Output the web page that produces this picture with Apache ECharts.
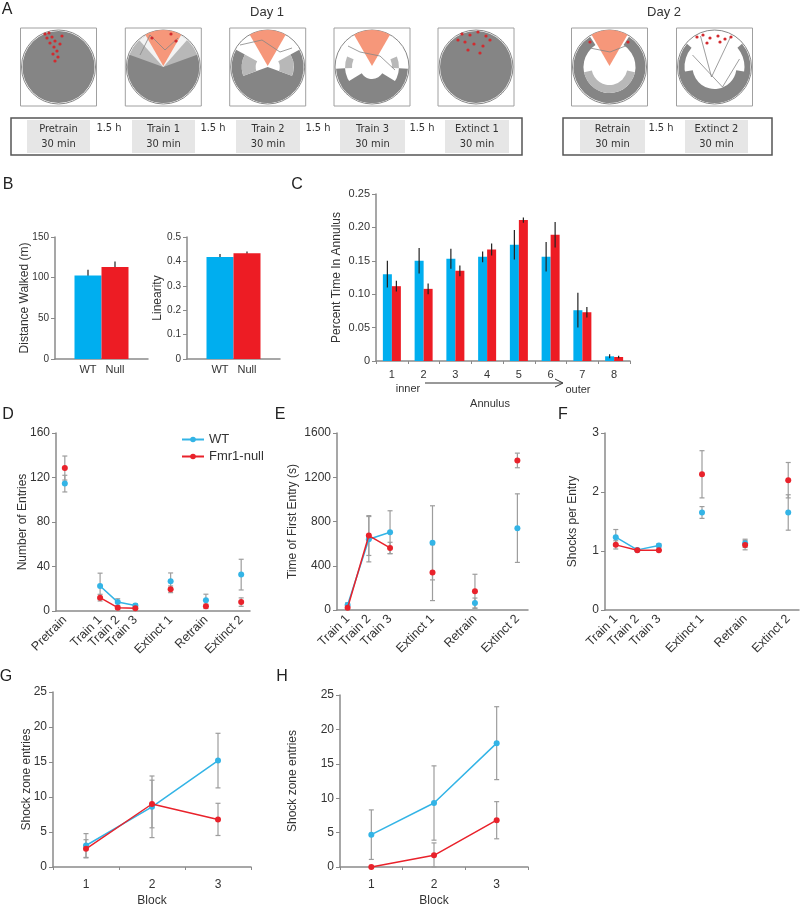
<!DOCTYPE html>
<html><head><meta charset="utf-8">
<script src="https://cdn.jsdelivr.net/npm/echarts/dist/echarts.min.js"></script>
<style>html,body{margin:0;padding:0;background:#fff}#c{width:800px;height:908px}</style>
</head><body><div id="c"></div>
<script>
// ---------------- DATA ----------------
const groups = ['WT', 'Null'];
const distWalked = [102.7, 113];
const distWalkedErr = [7, 7];
const linearity = [0.418, 0.433];
const linearityErr = [0.012, 0.008];

const annulusCats = ['1','2','3','4','5','6','7','8'];
const wtAnnulus = [0.130, 0.150, 0.153, 0.156, 0.174, 0.156, 0.076, 0.007];
const wtAnnulusErr = [0.020, 0.019, 0.015, 0.008, 0.022, 0.022, 0.026, 0.003];
const nullAnnulus = [0.112, 0.108, 0.135, 0.167, 0.211, 0.189, 0.073, 0.006];
const nullAnnulusErr = [0.008, 0.008, 0.008, 0.009, 0.004, 0.019, 0.008, 0.002];

const sessionsD = ['Pretrain','','Train 1','Train 2','Train 3','','Extinct 1','','Retrain','','Extinct 2'];
const wtEntries = [114.5, null, 22.5, 8, 5, null, 26.7, null, 9.6, null, 32.7];
const wtEntriesErr = [7.5, null, 11.5, 3, 1.5, null, 7.5, null, 5.5, null, 13.8];
const nullEntries = [128.5, null, 12, 3, 2.4, null, 19.5, null, 4.2, null, 8];
const nullEntriesErr = [10.8, null, 3, 1.2, 1, null, 3, null, 2, null, 3.8];

const sessionsEF = ['Train 1','Train 2','Train 3','','Extinct 1','','Retrain','','Extinct 2'];
const wtFirst = [45, 640, 703, null, 607, null, 63, null, 740];
const wtFirstErr = [20, 205, 194, null, 335, null, 45, null, 310];
const nullFirst = [21, 673, 561, null, 338, null, 169, null, 1352];
const nullFirstErr = [15, 180, 51, null, 253, null, 154, null, 66];

const wtShocks = [1.234, 1.019, 1.092, null, 1.653, null, 1.13, null, 1.653];
const wtShocksErr = [0.13, 0.015, 0.03, null, 0.1, null, 0.07, null, 0.3];
const nullShocks = [1.104, 1.013, 1.013, null, 2.30, null, 1.10, null, 2.20];
const nullShocksErr = [0.07, 0.01, 0.01, null, 0.4, null, 0.08, null, 0.3];

const blocks = ['1','2','3'];
const wtBlockG = [3.07, 8.6, 15.2];
const wtBlockGErr = [1.7, 4.4, 3.9];
const nullBlockG = [2.6, 9.0, 6.8];
const nullBlockGErr = [1.3, 3.4, 2.3];
const wtBlockH = [4.7, 9.3, 18.0];
const wtBlockHErr = [3.6, 5.4, 5.3];
const nullBlockH = [0, 1.7, 6.8];
const nullBlockHErr = [0, 1.8, 2.7];

const dayLabels = ['Day 1', 'Day 2'];
const day1Sessions = ['Pretrain','Train 1','Train 2','Train 3','Extinct 1'];
const day2Sessions = ['Retrain','Extinct 2'];
const gapLabel = '1.5 h';
const durLabel = '30 min';

// ---------------- STYLE ----------------
const FONT = '"Liberation Sans", Arial, sans-serif';
const NARROW = '"Liberation Sans Narrow", "DejaVu Sans Condensed", "Liberation Sans", sans-serif';
const BLUE = '#00aeef', RED = '#ed1c24', LBLUE = '#33b4e6', LRED = '#e9222b';
const AX = '#8a8a8a', TXT = '#333';

const grids = [
  {left:55, top:237, width:93, height:122},   // B left
  {left:187, top:237, width:93, height:122},  // B right
  {left:376, top:194, width:254, height:167}, // C
  {left:56, top:433, width:194, height:178},  // D
  {left:337, top:433, width:191, height:177}, // E
  {left:605, top:433, width:194, height:177}, // F
  {left:53, top:692, width:198, height:176},  // G
  {left:340, top:695, width:188, height:173}  // H
];

const plain = v => String(v);
function yAx(gi, min, max, interval, name, nameGap, fs, nfs, fmt) {
  return {type:'value', gridIndex:gi, min, max, interval, name, nameLocation:'middle', nameGap, nameMoveOverlap:false,
    nameTextStyle:{fontSize:nfs, color:TXT, fontFamily:FONT},
    axisLine:{show:true, lineStyle:{color:AX, width:1.5}},
    axisTick:{show:true, length:4, lineStyle:{color:AX}},
    splitLine:{show:false},
    axisLabel:{fontSize:fs, color:TXT, margin:6, fontFamily:FONT, formatter:fmt || plain}};
}
function xCat(gi, data, opts) {
  const o = {type:'category', gridIndex:gi, data, boundaryGap:true,
    axisLine:{show:true, lineStyle:{color:AX, width:1.5}},
    axisTick:{show:false}, splitLine:{show:false},
    axisLabel:{fontSize:13, color:TXT, fontFamily:FONT, interval:0, margin:6}};
  return Object.assign(o, opts || {});
}
const rotLabel = {fontSize:12.5, color:TXT, rotate:45, interval:0, margin:7, fontFamily:FONT};

const xAxis = [
  xCat(0, ['B1'], {axisLabel:{show:false}}),
  xCat(1, ['B2'], {axisLabel:{show:false}}),
  xCat(2, annulusCats, {axisTick:{show:true, length:3, lineStyle:{color:AX}}, axisLabel:{fontSize:11, color:TXT, margin:8, fontFamily:FONT}}),
  xCat(3, sessionsD, {axisLabel:rotLabel}),
  xCat(4, sessionsEF, {axisLabel:rotLabel}),
  xCat(5, sessionsEF, {axisLabel:rotLabel}),
  xCat(6, blocks, {name:'Block', nameLocation:'middle', nameGap:28, nameMoveOverlap:false, nameTextStyle:{fontSize:12, color:TXT, fontFamily:FONT},
     axisTick:{show:true, length:3, lineStyle:{color:AX}}, axisLabel:{fontSize:12, color:TXT, margin:12, fontFamily:FONT}}),
  xCat(7, blocks, {name:'Block', nameLocation:'middle', nameGap:28, nameMoveOverlap:false, nameTextStyle:{fontSize:12, color:TXT, fontFamily:FONT},
     axisTick:{show:true, length:3, lineStyle:{color:AX}}, axisLabel:{fontSize:12, color:TXT, margin:12, fontFamily:FONT}})
];
const yAxis = [
  yAx(0, 0, 150, 50, 'Distance Walked (m)', 24, 10, 12),
  yAx(1, 0, 0.5, 0.1, 'Linearity', 23, 10, 12),
  yAx(2, 0, 0.25, 0.05, 'Percent Time In Annulus', 33, 11, 12, v => v === 0 ? '0' : v.toFixed(2)),
  yAx(3, 0, 160, 40, 'Number of Entries', 27, 12, 12),
  yAx(4, 0, 1600, 400, 'Time of First Entry (s)', 38, 12, 12),
  yAx(5, 0, 3, 1, 'Shocks per Entry', 26, 12, 12),
  yAx(6, 0, 25, 5, 'Shock zone entries', 20, 12, 12),
  yAx(7, 0, 25, 5, 'Shock zone entries', 41, 12, 12)
];

function errS(gi, means, errs, color, cap, offset, width) {
  const data = [];
  means.forEach((m, i) => { if (m !== null && errs[i] !== null) data.push([i, m, errs[i]]); });
  return {type:'custom', xAxisIndex:gi, yAxisIndex:gi, data, silent:true, z:2, animation:false,
    renderItem: function(params, api) {
      const x = api.value(0), m = api.value(1), e = api.value(2);
      const hi = api.coord([x, m + e]), lo = api.coord([x, Math.max(0, m - e)]);
      const px = hi[0] + offset;
      const ch = [{type:'line', shape:{x1:px, y1:hi[1], x2:px, y2:lo[1]}, style:{stroke:color, lineWidth:width}}];
      if (cap) {
        ch.push({type:'line', shape:{x1:px-cap, y1:hi[1], x2:px+cap, y2:hi[1]}, style:{stroke:color, lineWidth:width}});
        ch.push({type:'line', shape:{x1:px-cap, y1:lo[1], x2:px+cap, y2:lo[1]}, style:{stroke:color, lineWidth:width}});
      }
      return {type:'group', children:ch};
    }};
}
function lineS(name, gi, data, color, z) {
  return {type:'line', name, xAxisIndex:gi, yAxisIndex:gi, data, symbol:'circle', symbolSize:6,
    showSymbol:true, connectNulls:false, itemStyle:{color}, lineStyle:{color, width:1.5}, z:z||3, animation:false};
}
function barS(name, gi, data, color, width, label) {
  const s = {type:'bar', name, xAxisIndex:gi, yAxisIndex:gi, data, barWidth:width, barGap:'0%',
    itemStyle:{color}, animation:false};
  if (label) s.label = {show:true, position:'bottom', distance:5, formatter:label, fontSize:11, color:TXT, fontFamily:FONT};
  return s;
}

const ERRC = '#9d9d9d';
const series = [
  // D (first so legend picks line icon)
  lineS('WT', 3, wtEntries, LBLUE, 3),
  lineS('Fmr1-null', 3, nullEntries, LRED, 4),
  errS(3, wtEntries, wtEntriesErr, ERRC, 2.5, 0, 1.2),
  errS(3, nullEntries, nullEntriesErr, ERRC, 2.5, 0, 1.2),
  // B
  barS('WT', 0, [distWalked[0]], BLUE, 27, groups[0]),
  barS('Null', 0, [distWalked[1]], RED, 27, groups[1]),
  errS(0, [distWalked[0]], [distWalkedErr[0]], '#222', 0, -13.5, 1.2),
  errS(0, [distWalked[1]], [distWalkedErr[1]], '#222', 0, 13.5, 1.2),
  barS('WT', 1, [linearity[0]], BLUE, 27, groups[0]),
  barS('Null', 1, [linearity[1]], RED, 27, groups[1]),
  errS(1, [linearity[0]], [linearityErr[0]], '#222', 0, -13.5, 1.2),
  errS(1, [linearity[1]], [linearityErr[1]], '#222', 0, 13.5, 1.2),
  // C
  barS('WT', 2, wtAnnulus, BLUE, 9),
  barS('Null', 2, nullAnnulus, RED, 9),
  Object.assign(errS(2, wtAnnulus, wtAnnulusErr, '#222', 0, -4.5, 1.2), {z:5}),
  Object.assign(errS(2, nullAnnulus, nullAnnulusErr, '#222', 0, 4.5, 1.2), {z:5}),
  // E
  errS(4, wtFirst, wtFirstErr, ERRC, 2.5, 0, 1.2),
  errS(4, nullFirst, nullFirstErr, ERRC, 2.5, 0, 1.2),
  lineS('WT', 4, wtFirst, LBLUE, 3),
  lineS('Fmr1-null', 4, nullFirst, LRED, 4),
  // F
  errS(5, wtShocks, wtShocksErr, ERRC, 2.5, 0, 1.2),
  errS(5, nullShocks, nullShocksErr, ERRC, 2.5, 0, 1.2),
  lineS('WT', 5, wtShocks, LBLUE, 3),
  lineS('Fmr1-null', 5, nullShocks, LRED, 4),
  // G
  errS(6, wtBlockG, wtBlockGErr, ERRC, 2.5, 0, 1.2),
  errS(6, nullBlockG, nullBlockGErr, ERRC, 2.5, 0, 1.2),
  lineS('WT', 6, wtBlockG, LBLUE, 3),
  lineS('Fmr1-null', 6, nullBlockG, LRED, 4),
  // H
  errS(7, wtBlockH, wtBlockHErr, ERRC, 2.5, 0, 1.2),
  errS(7, nullBlockH, nullBlockHErr, ERRC, 2.5, 0, 1.2),
  lineS('WT', 7, wtBlockH, LBLUE, 3),
  lineS('Fmr1-null', 7, nullBlockH, LRED, 4)
];

// ---------------- PANEL A (schematic image) + annotations ----------------
const G = [];
function T(x, y, text, fs, opt, z) {
  G.push({type:'text', x, y, z: z || 10, silent:true, style:Object.assign({text, fontSize:fs, fontFamily:FONT, fill:TXT, align:'center', verticalAlign:'middle'}, opt||{})});
}
// panel letters
[['A',7,10],['B',8,185],['C',297,185],['D',8,415],['E',280,415],['F',563,415],['G',6,677],['H',282,677]]
  .forEach(l => T(l[1], l[2], l[0], 16, {fill:'#222'}));
T(267, 12, dayLabels[0], 13);
T(664, 12, dayLabels[1], 13);

const GRAY = '#858585', LGRAY = '#b8b8b8', ORANGE = '#f6977a', DOT = '#d22a2e';
const arenaX = [58.5, 163.3, 267.7, 372, 476, 609.5, 714.5];
const AY = 67, R = 37;
function sector(cx, cy, r0, r, a0, a1, fill, z) {
  G.push({type:'sector', silent:true, z:z||1, shape:{cx, cy, r0, r, startAngle:a0, endAngle:a1, clockwise:true}, style:{fill}});
}
function dots(list) { list.forEach(p => G.push({type:'circle', silent:true, z:5, shape:{cx:p[0], cy:p[1], r:1.6}, style:{fill:DOT}})); }
function path(pts, z) { G.push({type:'polyline', silent:true, z:z||2, shape:{points:pts}, style:{stroke:GRAY, lineWidth:0.8, fill:null}}); }
const PI = Math.PI;
arenaX.forEach((cx, i) => {
  G.push({type:'rect', silent:true, z:0, shape:{x:cx-38, y:AY-39, width:76, height:78}, style:{fill:'#fff', stroke:'#a0a0a0', lineWidth:1}});
  if (i === 0 || i === 4) {
    sector(cx, AY, 0, R-1, 0, 2*PI, GRAY);
  } else if (i === 1) {
    sector(cx, AY, 0, R-1, -PI/2, 3*PI/2, LGRAY);
    sector(cx, AY, 0, R-1, -0.35, PI+0.35, GRAY);
    sector(cx, AY, 0, R-1, -2.3, -0.85, '#f3f3f3');
  } else if (i === 2) {
    sector(cx, AY, 26, R-1, -0.5, PI+0.5, GRAY);
    sector(cx, AY, 0, R-1, 0.35, PI-0.35, GRAY);
    sector(cx, AY, 12, 26, -0.5, 0.35, LGRAY); sector(cx, AY, 12, 26, PI-0.35, PI+0.5, LGRAY);
  } else if (i === 3) {
    sector(cx, AY, 27, R-1, 0.05, PI-0.05, GRAY);
    sector(cx, AY, 12, R-1, 0.55, PI-0.55, GRAY);
    sector(cx, AY, 20, 27, -0.4, 0.05, LGRAY); sector(cx, AY, 20, 27, PI-0.05, PI+0.4, LGRAY);
  } else if (i === 5) {
    sector(cx, AY, 26, R-1, -1.0, PI+1.0, GRAY);
    sector(cx, AY, 18, 26, 0.2, PI-0.2, LGRAY);
  } else if (i === 6) {
    sector(cx, AY, 30, R-1, -0.7, PI+0.7, GRAY);
    sector(cx, AY, 22, R-1, 0.15, PI-0.15, GRAY);
    path([[cx-14, AY-31],[cx-3, AY+10],[cx+16, AY-30]]);
    path([[cx-22, AY-12],[cx+8, AY+20],[cx+25, AY-8]]);
  }
  G.push({type:'circle', silent:true, z:3, shape:{cx, cy:AY, r:R}, style:{fill:null, stroke:'#888', lineWidth:1}});
  if (i >= 1 && i <= 3 || i === 5) {
    sector(cx, AY-1, 0, R-1, -2.094, -1.047, ORANGE, 4);
  }
});
path([[140,55],[150,35],[165,50],[178,38]], 5);
path([[240,45],[262,40],[280,52],[292,48]], 5);
path([[348,46],[360,52],[380,56],[395,70]], 5);
path([[590,48],[610,52],[628,45]], 5);
dots([[45,34],[49,33],[52,37],[55,41],[50,43],[54,47],[57,51],[53,54],[58,57],[55,61],[60,44],[47,38],[62,36]]);
dots([[462,34],[470,35],[478,32],[486,36],[465,42],[474,44],[483,46],[490,40],[468,50],[480,53],[458,40]]);
dots([[697,37],[703,35],[710,38],[718,36],[725,39],[731,37],[707,43],[720,42]]);
dots([[152,38],[171,34],[176,41],[590,42],[628,42]]);

// timelines
function timeline(x0, x1, cells, gaps, names) {
  G.push({type:'rect', silent:true, z:0, shape:{x:x0, y:118, width:x1-x0, height:37}, style:{fill:'#fff', stroke:'#555', lineWidth:1.5}});
  cells.forEach((c, k) => {
    G.push({type:'rect', silent:true, z:1, shape:{x:c[0], y:120, width:c[1]-c[0], height:33}, style:{fill:'#e6e6e6'}});
    T((c[0]+c[1])/2, 129, names[k], 11, {fontFamily:NARROW}, 10);
    T((c[0]+c[1])/2, 144, durLabel, 11, {fontFamily:NARROW}, 10);
  });
  gaps.forEach(g => T(g, 128, gapLabel, 11, {fontFamily:NARROW}, 10));
}
timeline(11, 522, [[27,90],[132,195],[236,300],[340,405],[445,509]], [109,213,318,422], day1Sessions);
timeline(563, 772, [[580,645],[685,748]], [661], day2Sessions);

// C annulus annotation
T(408, 389, 'inner', 11);
T(490, 404, 'Annulus', 11);
T(578, 390, 'outer', 11);
G.push({type:'line', silent:true, shape:{x1:425, y1:383, x2:562, y2:383}, style:{stroke:'#333', lineWidth:1}});
G.push({type:'polyline', silent:true, shape:{points:[[555,379],[563,383],[555,387]]}, style:{stroke:'#333', lineWidth:1, fill:null}});

const option = {
  animation:false,
  textStyle:{fontFamily:FONT},
  grid: grids,
  xAxis, yAxis, series,
  legend: {data:['WT','Fmr1-null'], left:176, top:428, orient:'vertical', itemWidth:22, itemHeight:7, itemGap:4,
    textStyle:{fontSize:13, color:TXT, fontFamily:FONT}, selectedMode:false},
  graphic: G
};
const chart = echarts.init(document.getElementById('c'), null, {renderer:'canvas'});
chart.setOption(option);
</script></body></html>
